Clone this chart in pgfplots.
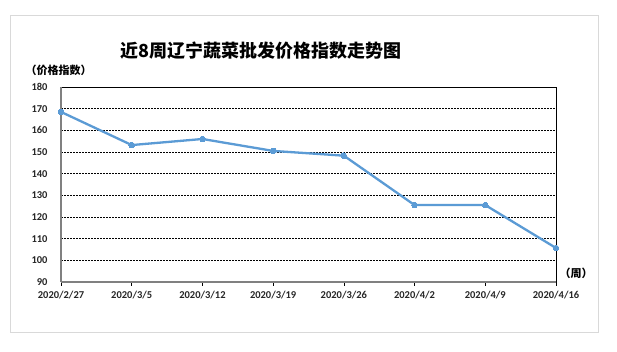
\documentclass[border=0pt]{standalone}
\usepackage{pgfplots}
\pgfplotsset{compat=1.18}
\usepackage{fontspec}
\setmainfont{Carlito}
\newfontfamily\cjk{Noto Sans CJK SC}
\definecolor{lineblue}{RGB}{91,155,213}
\definecolor{framegrey}{RGB}{217,217,217}
\definecolor{axgrey}{RGB}{128,128,128}
\begin{document}
\begin{tikzpicture}[x=1pt,y=1pt]
\path[fill=white] (0,0) rectangle (617,352);
\draw[framegrey, line width=1pt] (10,19) rectangle (598,336);
\node[font=\cjk\bfseries\fontsize{18}{20}\selectfont] at (261,301) {近8周辽宁蔬菜批发价格指数走势图};
\node[font=\cjk\bfseries\fontsize{11}{12}\selectfont, anchor=west] at (22,282) {（价格指数）};
\node[font=\cjk\bfseries\fontsize{11}{12}\selectfont, anchor=west] at (556,79) {（周）};
\begin{axis}[
  at={(61pt,70pt)}, anchor=south west,
  scale only axis, width=495pt, height=195pt,
  xmin=0, xmax=7, ymin=90, ymax=180,
  xtick={0,1,2,3,4,5,6,7},
  xticklabels={2020/2/27,2020/3/5,2020/3/12,2020/3/19,2020/3/26,2020/4/2,2020/4/9,2020/4/16},
  ytick={90,100,...,180},
  ymajorgrids, grid style={black, dashed, line width=0.5pt, dash pattern=on 2pt off 1pt},
  tick label style={font=\bfseries\fontsize{10.5}{12}\selectfont, text=black!85},
  /pgf/number format/assume math mode=true,
  x tick style={black, line width=0.6pt}, xtick pos=bottom, tick align=outside,
  major tick length=4pt,
  ytick style={draw=none},
  yticklabel style={xshift=-6pt},
  xticklabel style={yshift=-2pt},
  axis line style={black, line width=0.6pt},
  separate axis lines,
  x axis line style={},
  clip=false,
  execute at end axis={
    \draw[axgrey, line width=1.8pt] (rel axis cs:0,0) -- (rel axis cs:1,0);
    \draw[axgrey, line width=1.8pt] (rel axis cs:0,0) -- (rel axis cs:0,1);
  },
]
\addplot[lineblue, line width=2.3pt, mark=*, mark size=2.8pt, mark options={fill=lineblue, draw=lineblue, line width=0pt}]
coordinates {(0,168.5) (1,153.2) (2,156.0) (3,150.5) (4,148.3) (5,125.5) (6,125.5) (7,105.7)};
\end{axis}
\end{tikzpicture}
\end{document}
